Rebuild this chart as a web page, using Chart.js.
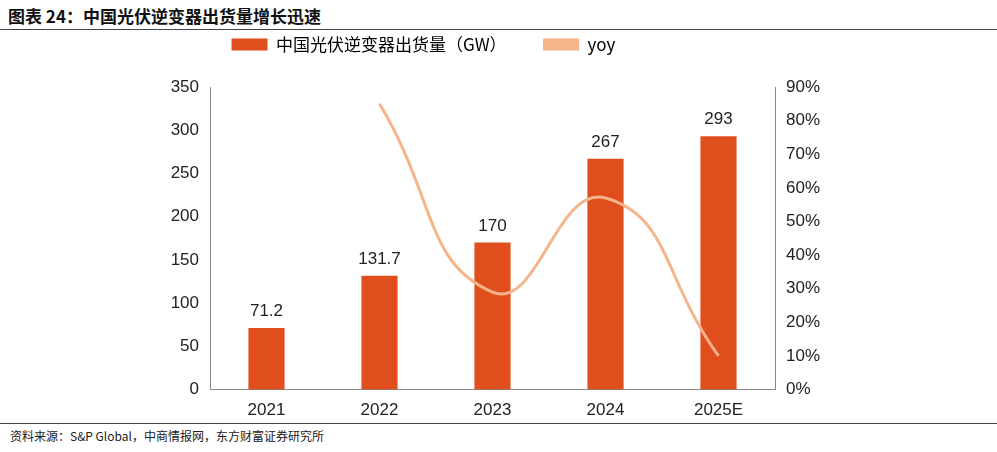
<!DOCTYPE html>
<html><head><meta charset="utf-8">
<script src="https://cdn.jsdelivr.net/npm/chart.js@4"></script>
<style>
body{margin:0;width:997px;height:452px;background:#fff;font-family:"Liberation Sans",Arial,sans-serif;position:relative;overflow:hidden}
#title{position:absolute;left:8px;top:3px;font-size:17px;font-weight:bold;font-family:"Noto Sans CJK SC",sans-serif;color:#111}
#l1{position:absolute;left:0;top:29px;width:997px;border-top:1px solid #444}
#l2{position:absolute;left:0;top:423px;width:997px;border-top:1px solid #444}
#src{position:absolute;left:10px;top:427px;font-size:12px;font-family:"Noto Sans CJK SC",sans-serif;color:#222}
#wrap{position:absolute;left:0;top:30px;width:997px;height:394px}
</style></head><body>
<div id="title">图表 24：中国光伏逆变器出货量增长迅速</div>
<div id="l1"></div>
<div id="wrap"><canvas id="c"></canvas></div>
<div id="l2"></div>
<div id="src">资料来源：S&amp;P Global，中商情报网，东方财富证券研究所</div>
<script>
const categories=["2021","2022","2023","2024","2025E"];
const shipments=[71.2,131.7,170,267,293];
const yoy=[null,85,29,57,10];
const labels=["71.2","131.7","170","267","293"];
const barLabels={id:'bl',afterDatasetsDraw(ch){const ctx=ch.ctx;const m=ch.getDatasetMeta(0);ctx.save();ctx.font='17px "Liberation Sans",Arial';ctx.fillStyle='#222';ctx.textAlign='center';ctx.textBaseline='bottom';m.data.forEach((b,i)=>ctx.fillText(labels[i],b.x,b.y-8));ctx.restore();}};
const legendFix={id:'lf',beforeLayout(ch){const l=ch.legend;if(l&&!l._p){l._p=1;const f=l.fit.bind(l);l.fit=function(){f();this.height+=24;};}}};
new Chart(document.getElementById('c'),{
data:{labels:categories,datasets:[
{type:'bar',label:'中国光伏逆变器出货量（GW）',data:shipments,backgroundColor:'#E04E1E',yAxisID:'y',barPercentage:0.32,categoryPercentage:1,order:2},
{type:'line',label:'yoy',data:yoy,borderColor:'#F5B48A',backgroundColor:'#F5B48A',borderWidth:3,pointRadius:0,tension:0.5,yAxisID:'y1',order:1}
]},
options:{responsive:true,maintainAspectRatio:false,animation:false,
layout:{padding:{left:0,right:150,top:0,bottom:0}},
plugins:{legend:{labels:{font:{size:17,family:'"Noto Sans CJK SC","Liberation Sans"'},color:'#222',boxWidth:36,boxHeight:12,padding:6,generateLabels(ch){return ch.data.datasets.map((d,i)=>({text:i===0?d.label+'        ':d.label,fillStyle:d.type==='bar'?d.backgroundColor:d.borderColor,strokeStyle:d.type==='bar'?d.backgroundColor:d.borderColor,lineWidth:0,datasetIndex:i}))}}},tooltip:{enabled:false}},
scales:{
x:{grid:{display:false,drawTicks:true},border:{color:'#888'},ticks:{font:{size:17},color:'#222'}},
y:{position:'left',min:0,max:350,ticks:{stepSize:50,font:{size:17},color:'#222'},grid:{display:false},border:{color:'#888'},afterFit(s){s.width=210}},
y1:{position:'right',min:0,max:90,ticks:{stepSize:10,callback:v=>v+'%',font:{size:17},color:'#222'},grid:{display:false},border:{color:'#888'},afterFit(s){s.width=72}}
}}
,plugins:[barLabels,legendFix]});
</script></body></html>
